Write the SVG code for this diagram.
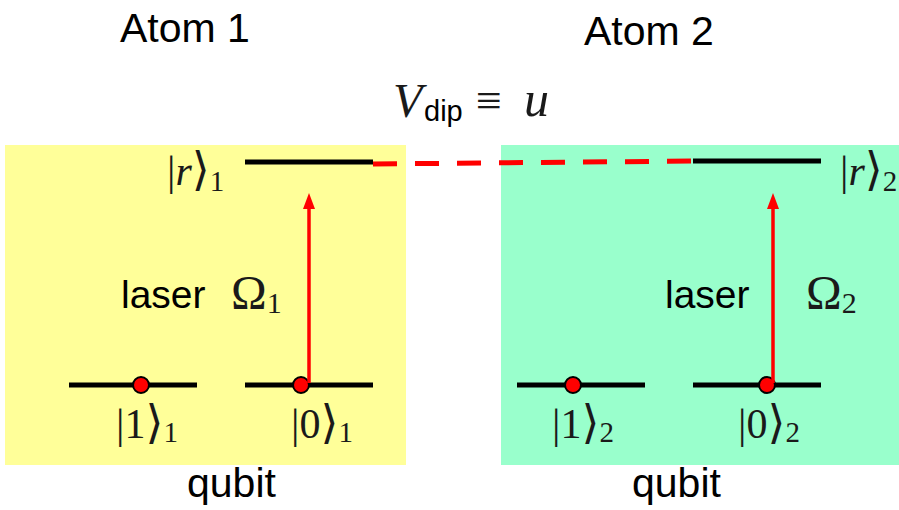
<svg xmlns="http://www.w3.org/2000/svg" width="899" height="510" viewBox="0 0 899 510">
<style>
.sans{font-family:"Liberation Sans",Arial,sans-serif;fill:#000}
.serif{font-family:"Liberation Serif","DejaVu Serif",serif;fill:#1a1a1a}
.br{font-family:"DejaVu Serif",serif}
.lvl{stroke:#000;stroke-width:5;fill:none}
.dot{fill:#ff0000;stroke:#000;stroke-width:2}
.laser{stroke:#ff0000;stroke-width:3.5;fill:none}
</style>
<defs>
<marker id="ah" markerWidth="16" markerHeight="12" refX="0" refY="6" orient="auto" markerUnits="userSpaceOnUse" viewBox="0 0 16 12">
<path d="M0,0 L16,6 L0,12 Z" fill="#ff0000"/>
</marker>
</defs>
<rect x="5" y="145" width="401" height="320" fill="#ffff99"/>
<rect x="501" y="145" width="398" height="320" fill="#99ffcc"/>
<text class="sans" x="120" y="42" font-size="41">Atom 1</text>
<text class="sans" x="584" y="45" font-size="41">Atom 2</text>
<g id="vdip">
<text class="serif" x="393" y="117" font-size="48" font-style="italic">V</text>
<text class="sans" x="424" y="121" font-size="29">dip</text>
<text class="serif" x="476" y="116" font-size="46">≡</text>
<text class="serif" x="524" y="116" font-size="50" font-style="italic">u</text>
</g>
<g id="atom1">
<g id="r1">
<line class="lvl" x1="245" y1="162" x2="373" y2="162"/>
<text class="serif" x="167" y="185" font-size="42">|<tspan font-style="italic">r</tspan><tspan class="br" font-size="46">⟩</tspan><tspan font-size="29" dy="6">1</tspan></text>
</g>
<g id="one1">
<line class="lvl" x1="69" y1="385" x2="197" y2="385"/>
<circle class="dot" cx="141" cy="385" r="8"/>
<text class="serif" x="116" y="438" font-size="42">|1<tspan class="br" font-size="46">⟩</tspan><tspan font-size="29" dy="4">1</tspan></text>
</g>
<g id="zero1">
<line class="lvl" x1="245" y1="385" x2="373" y2="385"/>
<circle class="dot" cx="301" cy="385" r="8"/>
<text class="serif" x="291" y="438" font-size="42">|0<tspan class="br" font-size="46">⟩</tspan><tspan font-size="29" dy="4">1</tspan></text>
</g>
<text class="sans" x="121" y="308" font-size="39">laser</text>
<text class="serif" x="231" y="309" font-size="48">Ω<tspan font-size="30" dy="4">1</tspan></text>
<text class="sans" x="187" y="497" font-size="41">qubit</text>
</g>
<g id="atom2">
<g id="r2">
<line class="lvl" x1="693" y1="161" x2="821" y2="161"/>
<text class="serif" x="840" y="185" font-size="42">|<tspan font-style="italic">r</tspan><tspan class="br" font-size="46">⟩</tspan><tspan font-size="29" dy="6">2</tspan></text>
</g>
<g id="one2">
<line class="lvl" x1="517" y1="385" x2="645" y2="385"/>
<circle class="dot" cx="573" cy="385" r="8"/>
<text class="serif" x="552" y="438" font-size="42">|1<tspan class="br" font-size="46">⟩</tspan><tspan font-size="29" dy="4">2</tspan></text>
</g>
<g id="zero2">
<line class="lvl" x1="693" y1="385" x2="821" y2="385"/>
<circle class="dot" cx="767" cy="385" r="8"/>
<text class="serif" x="738" y="438" font-size="42">|0<tspan class="br" font-size="46">⟩</tspan><tspan font-size="29" dy="4">2</tspan></text>
</g>
<text class="sans" x="665" y="308" font-size="39">laser</text>
<text class="serif" x="806" y="309" font-size="48">Ω<tspan font-size="30" dy="4">2</tspan></text>
<text class="sans" x="632" y="497" font-size="41">qubit</text>
</g>
<g id="connectors">
<line class="laser" x1="309" y1="383" x2="309" y2="209" marker-end="url(#ah)"/>
<line class="laser" x1="773" y1="383" x2="773" y2="209" marker-end="url(#ah)"/>
<line x1="373" y1="164" x2="693" y2="161" stroke="#ff0000" stroke-width="5" stroke-dasharray="24 18"/>
</g>
</svg>
